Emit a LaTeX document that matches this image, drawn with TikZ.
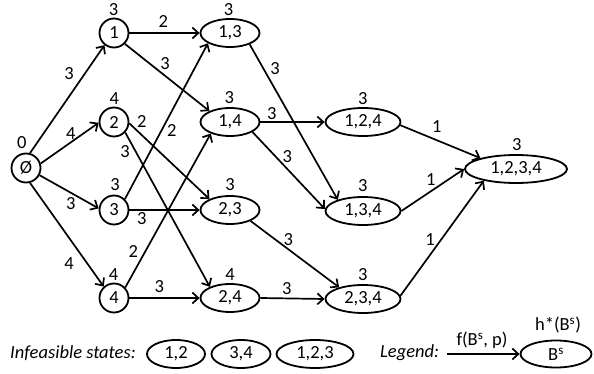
\documentclass[tikz,border=0pt]{standalone}
\usepackage{fontspec}
\setmainfont{Carlito}
\usetikzlibrary{shapes.geometric,arrows.meta}
\begin{document}
\begin{tikzpicture}[x=1pt,y=-1pt, font=\fontsize{18.5}{20}\selectfont,
  every node/.style={inner sep=0pt},
  cnode/.style={circle,draw,line width=1.8pt,minimum size=29pt},
  enode/.style={ellipse,draw,line width=1.8pt,minimum width=59pt,minimum height=28pt},
  wnode/.style={enode,minimum width=75pt},
  xnode/.style={enode,minimum width=102pt},
  edge/.style={line width=1.7pt,-{Straight Barb[length=6pt,width=11pt,line width=1.7pt]}},
  lab/.style={}]
\useasboundingbox (0,0) rectangle (594,374);

% state nodes
\node[cnode] (e) at (26,168) {Ø};
\node[cnode] (n1) at (114,33) {1};
\node[cnode] (n2) at (114,122) {2};
\node[cnode] (n3) at (114,210) {3};
\node[cnode] (n4) at (114,298) {4};
\node[enode] (n13) at (230,33) {1,3};
\node[enode] (n14) at (230,122) {1,4};
\node[enode] (n23) at (230,210) {2,3};
\node[enode] (n24) at (230,298) {2,4};
\node[wnode] (n124) at (363,122) {1,2,4};
\node[wnode] (n134) at (363,211) {1,3,4};
\node[wnode] (n234) at (363,299) {2,3,4};
\node[xnode] (n1234) at (516,169) {1,2,3,4};

% value labels
\node[lab] (ve) at (21.7,143) {0};
\node[lab] (v1) at (113.5,10) {3};
\node[lab] (v2) at (114.3,99) {4};
\node[lab] (v3) at (115,185) {3};
\node[lab] (v4) at (113.5,275) {4};
\node[lab] (v13) at (228.5,10) {3};
\node[lab] (v14) at (229.3,97.5) {3};
\node[lab] (v23) at (230,185) {3};
\node[lab] (v24) at (230,275) {4};
\node[lab] (v124) at (362.7,98.5) {3};
\node[lab] (v134) at (362.7,186) {3};
\node[lab] (v234) at (362.7,275) {3};
\node[lab] (v1234) at (516.7,145) {3};

% edges
\draw[edge] (e.75) -- (n1.232);
\draw[edge] (e.17) -- (n2.183);
\draw[edge] (e.-28) -- (n3.174);
\draw[edge] (e.-75) -- (n4.132);
\draw[edge] (n1) -- (n13);
\draw[edge] (n1.-45) -- (n14.152);
\draw[edge] (n2.-5) -- (n23.152);
\draw[edge] (n2.-43) -- (n24.151);
\draw[edge] (n3.45) -- (n13.205);
\draw[edge] (n3) -- (n23);
\draw[edge] (n4.43) -- (n14.211);
\draw[edge] (n4) -- (n24);
\draw[edge] (n13.-30) -- (n134.156);
\draw[edge] (n14) -- (n124);
\draw[edge] (n14.-24) -- (n134.177);
\draw[edge] (n23.-28) -- (n234.154);
\draw[edge] (n24.east) -- (n234.west);
\draw[edge] (n124.-5) -- (n1234.163);
\draw[edge] (n134.east) -- (n1234.west);
\draw[edge] (n234.5) -- (n1234.200);

% edge labels
\node[lab] (a1) at (69,74) {3};
\node[lab] (a2) at (70.7,134) {4};
\node[lab] (a3) at (70.7,203.5) {3};
\node[lab] (a4) at (69,263.5) {4};
\node[lab] (b1) at (163.3,21.7) {2};
\node[lab] (b2) at (165,63.3) {3};
\node[lab] (b3) at (141.7,121.7) {2};
\node[lab] (b4) at (125,151.7) {3};
\node[lab] (b5) at (171.7,130.7) {2};
\node[lab] (b6) at (141.7,219) {3};
\node[lab] (b7) at (133.3,251.7) {2};
\node[lab] (b8) at (159.3,286.7) {3};
\node[lab] (c1) at (275,68.3) {3};
\node[lab] (c2) at (271.7,113.3) {3};
\node[lab] (c3) at (287.3,156.7) {3};
\node[lab] (c4) at (288.3,239.3) {3};
\node[lab] (c5) at (286.7,288.3) {3};
\node[lab] (d1) at (436.7,126.7) {1};
\node[lab] (d2) at (430.7,180) {1};
\node[lab] (d3) at (430,240) {1};

% infeasible states
\node[anchor=west] (inf) at (10,352.7) {\itshape Infeasible states:};
\node[enode,minimum width=58pt] (i12) at (176,354) {1,2};
\node[enode,minimum width=59pt] (i34) at (241,354) {3,4};
\node[enode,minimum width=77pt] (i123) at (315,354) {1,2,3};

% legend
\node[anchor=west] (leg) at (380,352.7) {\itshape Legend:};
\node[enode,minimum width=71pt,minimum height=27pt] (lg) at (556,354) {B\textsuperscript{s}};
\coordinate (la) at (447,354);
\draw[edge] (la) -- (lg.west);
\node[lab] (lf) at (482,340) {f(B\textsuperscript{s}, p)};
\node[lab] (lh) at (558,325) {h*(B\textsuperscript{s})};
\end{tikzpicture}
\end{document}
